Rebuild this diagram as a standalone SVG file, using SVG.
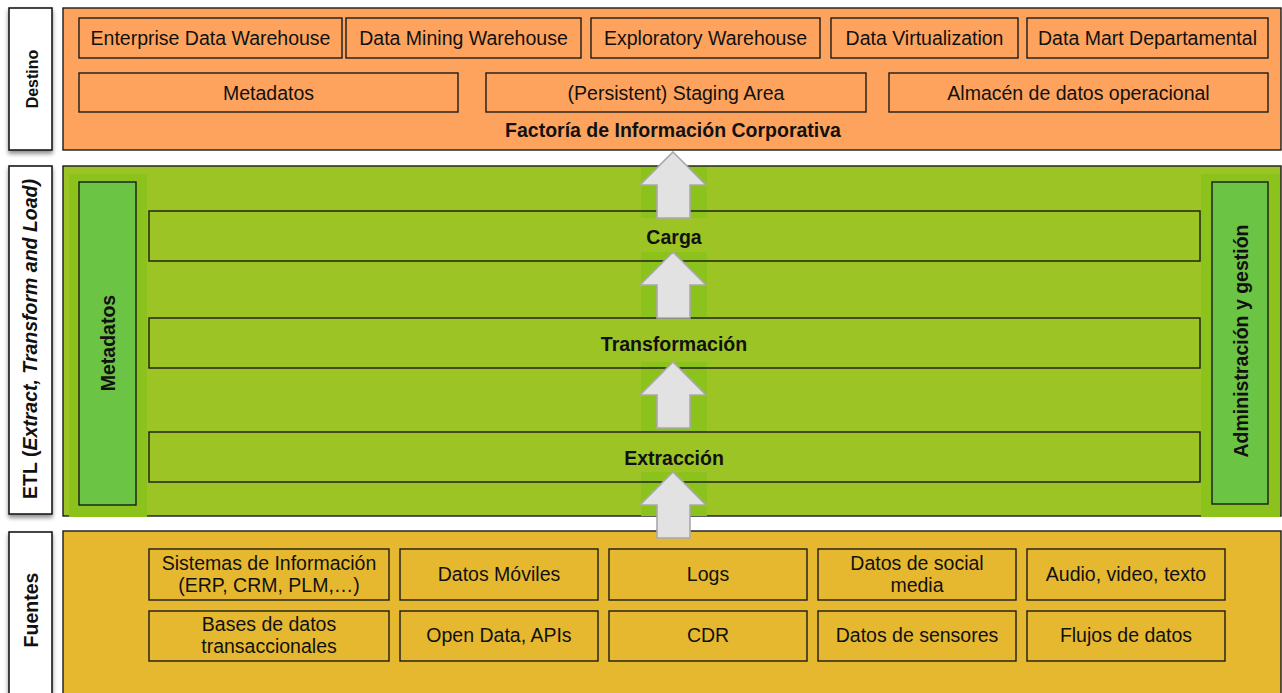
<svg xmlns="http://www.w3.org/2000/svg" width="1282" height="693" viewBox="0 0 1282 693">
<defs>
<filter id="sh" x="-20%" y="-10%" width="150%" height="130%">
<feDropShadow dx="0" dy="3" stdDeviation="2" flood-color="#000" flood-opacity="0.45"/>
</filter>
</defs>
<style>
text{font-family:"Liberation Sans",Arial,Helvetica,sans-serif;fill:#111;}
.t{font-size:19.5px;text-anchor:middle;}
.b{font-size:19.5px;font-weight:bold;text-anchor:middle;}
.lbl{fill:#fff;stroke:#1a1a1a;stroke-width:1.6;}
.box{stroke:#1a1a1a;stroke-width:1.4;}
.or{fill:#fea35d;}
.ye{fill:#e6b830;}
.gr{fill:#9cc424;}
.dg{fill:#8cc21c;}
.lg{fill:#6cc444;stroke:#1a1a1a;stroke-width:1.4;}
.bar{fill:none;stroke:#1a1a1a;stroke-width:1.4;}
.arr{fill:#e2e2e2;stroke:#a9a9a9;stroke-width:1.6;}
</style>

<!-- Side labels -->
<g id="label-destino">
<rect class="lbl" x="9" y="8" width="43" height="142" filter="url(#sh)"/>
<text class="b" transform="translate(37.5,79) rotate(-90)" style="font-size:16px">Destino</text>
</g>
<g id="label-etl">
<rect class="lbl" x="9" y="166" width="43" height="348" filter="url(#sh)"/>
<text class="b" transform="translate(37,339) rotate(-90)">ETL (<tspan font-style="italic">Extract, Transform and Load)</tspan></text>
</g>
<g id="label-fuentes">
<rect class="lbl" x="9" y="532" width="43" height="165" filter="url(#sh)"/>
<text class="b" transform="translate(37.5,610) rotate(-90)">Fuentes</text>
</g>

<!-- Destino layer -->
<g id="destino">
<rect class="or box" x="63" y="8" width="1218" height="142"/>
<text class="b" x="673" y="137">Factoría de Información Corporativa</text>
</g>
<g id="d-edw"><rect class="or box" x="79" y="18" width="263" height="40"/><text class="t" x="210.5" y="45">Enterprise Data Warehouse</text></g>
<g id="d-dmw"><rect class="or box" x="346" y="18" width="235" height="40"/><text class="t" x="463.5" y="45">Data Mining Warehouse</text></g>
<g id="d-exp"><rect class="or box" x="591" y="18" width="229" height="40"/><text class="t" x="705.5" y="45">Exploratory Warehouse</text></g>
<g id="d-virt"><rect class="or box" x="831" y="18" width="187" height="40"/><text class="t" x="924.5" y="45">Data Virtualization</text></g>
<g id="d-mart"><rect class="or box" x="1027" y="18" width="241" height="40"/><text class="t" x="1147.5" y="45">Data Mart Departamental</text></g>
<g id="d-meta"><rect class="or box" x="79" y="73" width="379" height="39"/><text class="t" x="268.5" y="100">Metadatos</text></g>
<g id="d-stag"><rect class="or box" x="486" y="73" width="380" height="39"/><text class="t" x="676" y="100">(Persistent) Staging Area</text></g>
<g id="d-ods"><rect class="or box" x="889" y="73" width="379" height="39"/><text class="t" x="1078.5" y="100">Almacén de datos operacional</text></g>

<!-- ETL layer -->
<g id="etl">
<rect class="gr box" x="63" y="166" width="1218" height="350"/>
<rect class="dg" x="69" y="174" width="78" height="343"/>
<rect class="dg" x="1201" y="174" width="79" height="343"/>
<rect class="dg" x="641" y="167" width="66" height="51"/>
<rect class="dg" x="641" y="252" width="66" height="66"/>
<rect class="dg" x="641" y="362" width="66" height="70"/>
<rect class="dg" x="641" y="472" width="66" height="44"/>
</g>
<g id="e-meta">
<rect class="lg" x="79" y="182" width="57" height="323"/>
<text class="b" transform="translate(114.5,343) rotate(-90)">Metadatos</text>
</g>
<g id="e-admin">
<rect class="lg" x="1212" y="182" width="56" height="322"/>
<text class="b" transform="translate(1248,341) rotate(-90)">Administración y gestión</text>
</g>
<g id="e-carga"><rect class="bar" x="149" y="211" width="1051" height="50"/><text class="b" x="674" y="244">Carga</text></g>
<g id="e-trans"><rect class="bar" x="149" y="318" width="1051" height="50"/><text class="b" x="674" y="351">Transformación</text></g>
<g id="e-extr"><rect class="bar" x="149" y="432" width="1051" height="50"/><text class="b" x="674" y="465">Extracción</text></g>

<!-- Fuentes layer -->
<g id="fuentes">
<rect class="ye box" x="63" y="531" width="1218" height="166"/>
</g>
<g id="f-si"><rect class="ye box" x="149" y="549" width="240" height="51"/><text class="t" x="269" y="570">Sistemas de Información</text><text class="t" x="269" y="592">(ERP, CRM, PLM,…)</text></g>
<g id="f-mov"><rect class="ye box" x="400" y="549" width="198" height="51"/><text class="t" x="499" y="581">Datos Móviles</text></g>
<g id="f-logs"><rect class="ye box" x="609" y="549" width="198" height="51"/><text class="t" x="708" y="581">Logs</text></g>
<g id="f-social"><rect class="ye box" x="818" y="549" width="198" height="51"/><text class="t" x="917" y="570">Datos de social</text><text class="t" x="917" y="592">media</text></g>
<g id="f-audio"><rect class="ye box" x="1027" y="549" width="198" height="51"/><text class="t" x="1126" y="581">Audio, video, texto</text></g>
<g id="f-bd"><rect class="ye box" x="149" y="611" width="240" height="50"/><text class="t" x="269" y="631">Bases de datos</text><text class="t" x="269" y="653">transaccionales</text></g>
<g id="f-open"><rect class="ye box" x="400" y="611" width="198" height="50"/><text class="t" x="499" y="642">Open Data, APIs</text></g>
<g id="f-cdr"><rect class="ye box" x="609" y="611" width="198" height="50"/><text class="t" x="708" y="642">CDR</text></g>
<g id="f-sens"><rect class="ye box" x="818" y="611" width="198" height="50"/><text class="t" x="917" y="642">Datos de sensores</text></g>
<g id="f-flujos"><rect class="ye box" x="1027" y="611" width="198" height="50"/><text class="t" x="1126" y="642">Flujos de datos</text></g>

<!-- Connectors -->
<g id="connectors">
<path class="arr" d="M673,152 L706,185 L690,185 L690,218 L657,218 L657,185 L640,185 Z"/>
<path class="arr" d="M673,252 L706,285 L690,285 L690,318 L657,318 L657,285 L640,285 Z"/>
<path class="arr" d="M673,362 L706,395 L690,395 L690,428 L657,428 L657,395 L640,395 Z"/>
<path class="arr" d="M673,472 L706,505 L690,505 L690,538 L657,538 L657,505 L640,505 Z"/>
</g>
</svg>
